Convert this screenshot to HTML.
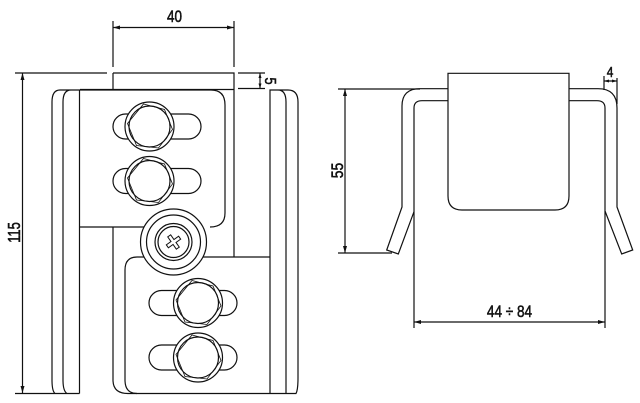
<!DOCTYPE html>
<html><head><meta charset="utf-8"><style>
html,body{margin:0;padding:0;background:#fff;width:640px;height:403px;overflow:hidden}
svg{display:block}
text{font-family:"Liberation Sans",sans-serif;fill:#111;stroke:#111;stroke-width:.55}
</style></head><body>
<svg width="640" height="403" viewBox="0 0 640 403" xmlns="http://www.w3.org/2000/svg">
<defs>
<g id="b">
<circle r="24.5" fill="#fff" stroke="#111" stroke-width="1.2"/>
<circle r="20.5" fill="#fff" stroke="#111" stroke-width="1.2"/>
<polygon points="-6,-22.5 15,-17 23,3 9,21.5 -13,19 -22,-3" fill="none" stroke="#111" stroke-width=".8"/>
</g>
<g id="s">
<rect x="-36.5" y="-12.5" width="88" height="25" rx="12.5" fill="#fff" stroke="#111" stroke-width="1.2"/>
</g>
</defs>
<g fill="none" stroke="#111" stroke-width="1.2">
<!-- top dims -->
<path d="M113 21V67M234 21V67M113 27.5H234"/>
<path d="M15 73H107M238 73H265M238 88.5H265M113 73H234V257M113 73V89M80 89.5H234"/>
<path d="M22.5 73V393M260 73V88"/>
<!-- left strip -->
<path d="M79.5 90H60Q52 90 52 102V380Q52 391 55 393.5M79.5 90H71Q63 90 63 102V380Q63 391 67 393.5M79.5 90V393.5M15 393.5H79.5"/>
<!-- top plate -->
<path d="M79.5 90H211Q225 90 225 105V213Q225 227 210 227M79.5 227H145"/>
<!-- lower plate -->
<path d="M113 227V380Q113 393.5 128 393.5H296Q298 390 298 378V102Q298 90 288 90H270V393.5M286 393.5V102Q286 90 278 90"/>
<path d="M145 257H137Q125 257 125 270V380Q125 393.5 137 393.5M200 257H270"/>
</g>
<use href="#s" x="149.5" y="126.5"/>
<use href="#b" x="149.5" y="126.5"/>
<use href="#s" x="149.5" y="181"/>
<use href="#b" x="149.5" y="181"/>
<use href="#s" x="185.5" y="303"/>
<use href="#b" x="198" y="303"/>
<use href="#s" x="185.5" y="357.5"/>
<use href="#b" x="198" y="357.5"/>
<!-- screw -->
<g transform="translate(173.5,242)" fill="#fff" stroke="#111" stroke-width="1.2">
<circle r="33"/><circle r="27"/><circle r="18.5"/><circle r="15.5"/>
<path transform="rotate(-35)" d="M-1.8-7.5H1.8V-1.8H7.5V1.8H1.8V7.5H-1.8V1.8H-7.5V-1.8H-1.8Z" stroke-width="1"/>
</g>
<!-- arrows -->
<g fill="#111" stroke="none">
<path d="M113 27.5l7-2v4zM234 27.5l-7-2v4z"/>
<path d="M22.5 73l-2 7h4zM22.5 393l-2-7h4z"/>
<path d="M260 73l-1.5 5h3zM260 88.5l-1.5-5h3z"/>
<path d="M345 89l-2 7h4zM345 253l-2-7h4z"/>
<path d="M414 322l7-2v4zM605 322l-7-2v4z"/>
<path d="M604 81l5-1.5v3zM617 81l-5-1.5v3z"/>
</g>
<!-- right view -->
<g fill="none" stroke="#111" stroke-width="1.2">
<path d="M448 88.7H420Q402 88.7 402 106V207L386.7 250L398.3 254L414 211.7V108Q414 100.7 422 100.7H448"/>
<path d="M569 88.7H598Q617 88.7 617 108V207L632.7 250L621.7 254L605 211V108Q605 100.7 597 100.7H569"/>
<path d="M448 73.3H569V196Q569 210 555 210H462Q448 210 448 196Z"/>
<path d="M414 211.7V328M605 211V328M414 322H605"/>
<path d="M338 89H420M338 253H392M345 89V253"/>
<path d="M604 76V90M617 78V104M604 81H617"/>
</g>
<!-- labels -->
<text transform="translate(174.5,22) scale(.82,1)" text-anchor="middle" font-size="16.5">40</text>
<text transform="translate(265,81) rotate(90) scale(.8,1)" text-anchor="middle" font-size="16">5</text>
<text transform="translate(20,232.5) rotate(-90) scale(.74,1)" text-anchor="middle" font-size="17.5">115</text>
<text transform="translate(343,170.5) rotate(-90) scale(.82,1)" text-anchor="middle" font-size="17">55</text>
<text transform="translate(509.5,317) scale(.8,1)" text-anchor="middle" font-size="17">44 ÷ 84</text>
<text transform="translate(610,77) scale(.82,1)" text-anchor="middle" font-size="14.5">4</text>
</svg>
</body></html>
